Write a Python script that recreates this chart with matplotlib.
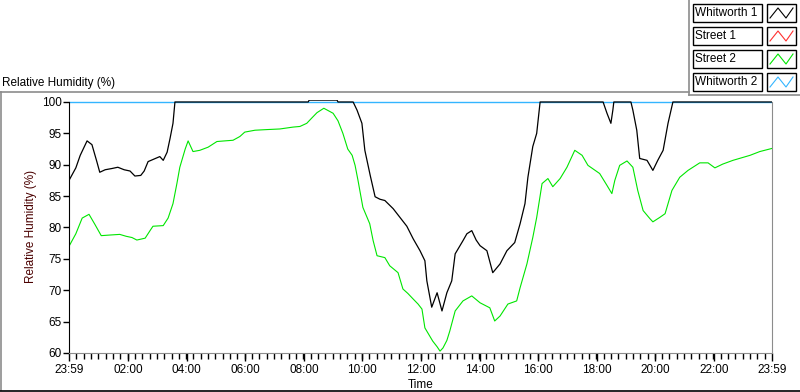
import numpy as np
import matplotlib.pyplot as plt
from matplotlib.lines import Line2D
from matplotlib.patches import Rectangle

plt.rcParams['font.family'] = ['Liberation Sans', 'DejaVu Sans']

# minutes after 23:59
t_whit1 = [0, 14, 23, 37, 47, 57, 63, 74, 88, 100, 113, 125, 135, 147, 154, 162, 174, 186, 193, 201,
           207, 213, 217, 490, 492, 549, 551, 582, 590, 600, 606, 617, 627, 637, 647, 664, 678, 692,
           705, 719, 729, 733, 743, 754, 764, 774, 784, 791, 807, 815, 825, 834, 842, 856, 868, 883,
           897, 913, 924, 934, 940, 950, 958, 965, 1094, 1102, 1110, 1114, 1116, 1151, 1155, 1163,
           1169, 1184, 1196, 1206, 1217, 1227, 1237, 1440]
rh_whit1 = [87.5, 89.5, 91.5, 93.8, 93.2, 90.5, 88.8, 89.2, 89.4, 89.6, 89.2, 89.0, 88.2, 88.3, 89.0,
            90.5, 90.9, 91.3, 90.7, 92.0, 94.2, 96.6, 100, 100, 100.3, 100.3, 100, 100, 98.7, 96.6,
            92.3, 88.3, 84.9, 84.5, 84.3, 83.0, 81.6, 80.2, 78.2, 76.3, 74.7, 71.5, 67.3, 69.6, 66.7,
            69.6, 71.5, 75.8, 77.9, 79.0, 79.5, 78.0, 77.1, 76.3, 72.8, 74.2, 76.3, 77.6, 80.6, 83.8,
            88.0, 92.9, 95.0, 100, 100, 98.2, 96.6, 98.7, 100, 100, 98.7, 95.5, 91.0, 90.7, 89.1,
            90.7, 92.3, 96.6, 100, 100]

t_street2 = [0, 14, 27, 41, 53, 66, 84, 104, 117, 129, 139, 156, 166, 172, 193, 203, 213, 221, 227,
             238, 244, 254, 268, 285, 303, 319, 336, 350, 360, 381, 405, 432, 459, 473, 487, 498, 508,
             522, 541, 551, 561, 571, 580, 586, 592, 602, 616, 623, 631, 647, 657, 674, 684, 694, 705,
             715, 723, 729, 745, 754, 760, 766, 774, 780, 791, 807, 825, 842, 862, 872, 883, 899, 917,
             924, 938, 950, 958, 969, 981, 991, 1006, 1020, 1036, 1051, 1063, 1087, 1102, 1112, 1118,
             1128, 1143, 1155, 1165, 1176, 1190, 1196, 1210, 1221, 1235, 1251, 1268, 1292, 1309, 1323,
             1339, 1360, 1395, 1415, 1440]
rh_street2 = [77.0, 79.0, 81.5, 82.1, 80.5, 78.7, 78.8, 78.9, 78.6, 78.4, 78.0, 78.3, 79.5, 80.2, 80.3,
              81.5, 83.8, 87.0, 89.6, 92.5, 93.8, 92.1, 92.3, 92.8, 93.7, 93.8, 93.9, 94.5, 95.2, 95.5,
              95.6, 95.7, 96.0, 96.1, 96.6, 97.5, 98.3, 99.0, 98.2, 97.0, 95.0, 92.5, 91.5, 89.9, 87.5,
              83.2, 80.6, 77.9, 75.5, 75.2, 73.9, 72.8, 70.2, 69.5, 68.6, 67.8, 67.0, 64.0, 61.9, 61.0,
              60.3, 60.8, 62.0, 63.5, 66.7, 68.3, 69.1, 68.0, 67.2, 65.1, 65.9, 67.8, 68.3, 70.4, 74.2,
              78.4, 81.6, 87.0, 87.8, 86.5, 87.8, 89.6, 92.3, 91.5, 89.9, 88.6, 86.7, 85.4, 87.5, 89.9,
              90.6, 89.6, 85.9, 82.7, 81.4, 80.9, 81.6, 82.2, 85.9, 88.0, 89.1, 90.3, 90.3, 89.5, 90.1,
              90.7, 91.5, 92.1, 92.6]

t_street1 = []
rh_street1 = []

t_whit2 = [0, 1440]
rh_whit2 = [100, 100]

tick_min = [0, 121, 241, 361, 481, 601, 721, 841, 961, 1081, 1201, 1321, 1440]
tick_lab = ['23:59', '02:00', '04:00', '06:00', '08:00', '10:00', '12:00', '14:00',
            '16:00', '18:00', '20:00', '22:00', '23:59']

series = ['Whitworth 1', 'Street 1', 'Street 2', 'Whitworth 2']
colors = ['#000000', '#ff3030', '#00e600', '#33b5ff']

W, H = 800, 392


def fx(x):
    return x / W


def fy(y):
    return 1 - y / H


fig = plt.figure(figsize=(8, 3.92), dpi=100)
ax = fig.add_axes([fx(69), fy(353), fx(772 - 69), (353 - 100.1) / H])

ax.plot(t_whit2, rh_whit2, color=colors[3], lw=1.0)
ax.plot(t_street1, rh_street1, color=colors[1], lw=0.8)
ax.plot(t_street2, rh_street2, color=colors[2], lw=0.8)
ax.plot(t_whit1, rh_whit1, color=colors[0], lw=0.9)

ax.set_xlim(0, 1440)
ax.set_ylim(60, 100.3)
ax.set_yticks(np.arange(60, 101, 5))
ax.set_xticks(tick_min)
ax.set_xticklabels(tick_lab)
ax.set_xticks(np.arange(0, 1440, 15), minor=True)

ax.spines['top'].set_visible(False)
ax.spines['left'].set_color('black')
ax.spines['right'].set_color('#8c8c8c')
ax.spines['bottom'].set_color('#8c8c8c')
ax.spines['left'].set_bounds(60, 100)
ax.spines['right'].set_bounds(60, 100)

ax.tick_params(axis='y', length=4, width=1, pad=1, labelsize=8.5, colors='black')
ax.tick_params(axis='x', which='major', length=6, width=1, pad=2, labelsize=8.5, colors='black')
ax.tick_params(axis='x', which='minor', length=4, width=1)

ax.set_xlabel('Time', fontsize=8.5, labelpad=2)
ax.set_ylabel('Relative Humidity (%)', fontsize=8.5, color='#4a0000', labelpad=4)

fig.text(fx(2), fy(83), 'Relative Humidity (%)', fontsize=8.5, va='center', ha='left')

# panel frame
grey = '#8c8c8c'
fig.add_artist(Line2D([fx(0), fx(689)], [fy(92), fy(92)], color=grey, lw=1.2))
fig.add_artist(Line2D([fx(1), fx(1)], [fy(92), fy(390)], color=grey, lw=1.2))
fig.add_artist(Line2D([fx(0), fx(800)], [fy(390.5), fy(390.5)], color='black', lw=1.2))
fig.add_artist(Line2D([fx(689), fx(689)], [fy(0), fy(95)], color=grey, lw=1.2))
fig.add_artist(Line2D([fx(689), fx(800)], [fy(95), fy(95)], color=grey, lw=1.2))

# legend
for i, (name, c) in enumerate(zip(series, colors)):
    top = 4 + i * 23
    h = 18
    fig.add_artist(Rectangle((fx(693), fy(top + h)), fx(69), h / H, fill=False,
                             edgecolor='black', lw=1))
    fig.add_artist(Rectangle((fx(767), fy(top + h)), fx(29), h / H, fill=False,
                             edgecolor='black', lw=1))
    fig.text(fx(695), fy(top + h / 2), name, fontsize=8.5, va='center', ha='left')
    zx = [770, 778, 786, 793]
    zy = [top + 14, top + 4, top + 14, top + 4]
    fig.add_artist(Line2D([fx(v) for v in zx], [fy(v) for v in zy], color=c, lw=0.8))

fig.savefig('out.png', dpi=100, facecolor='white')
